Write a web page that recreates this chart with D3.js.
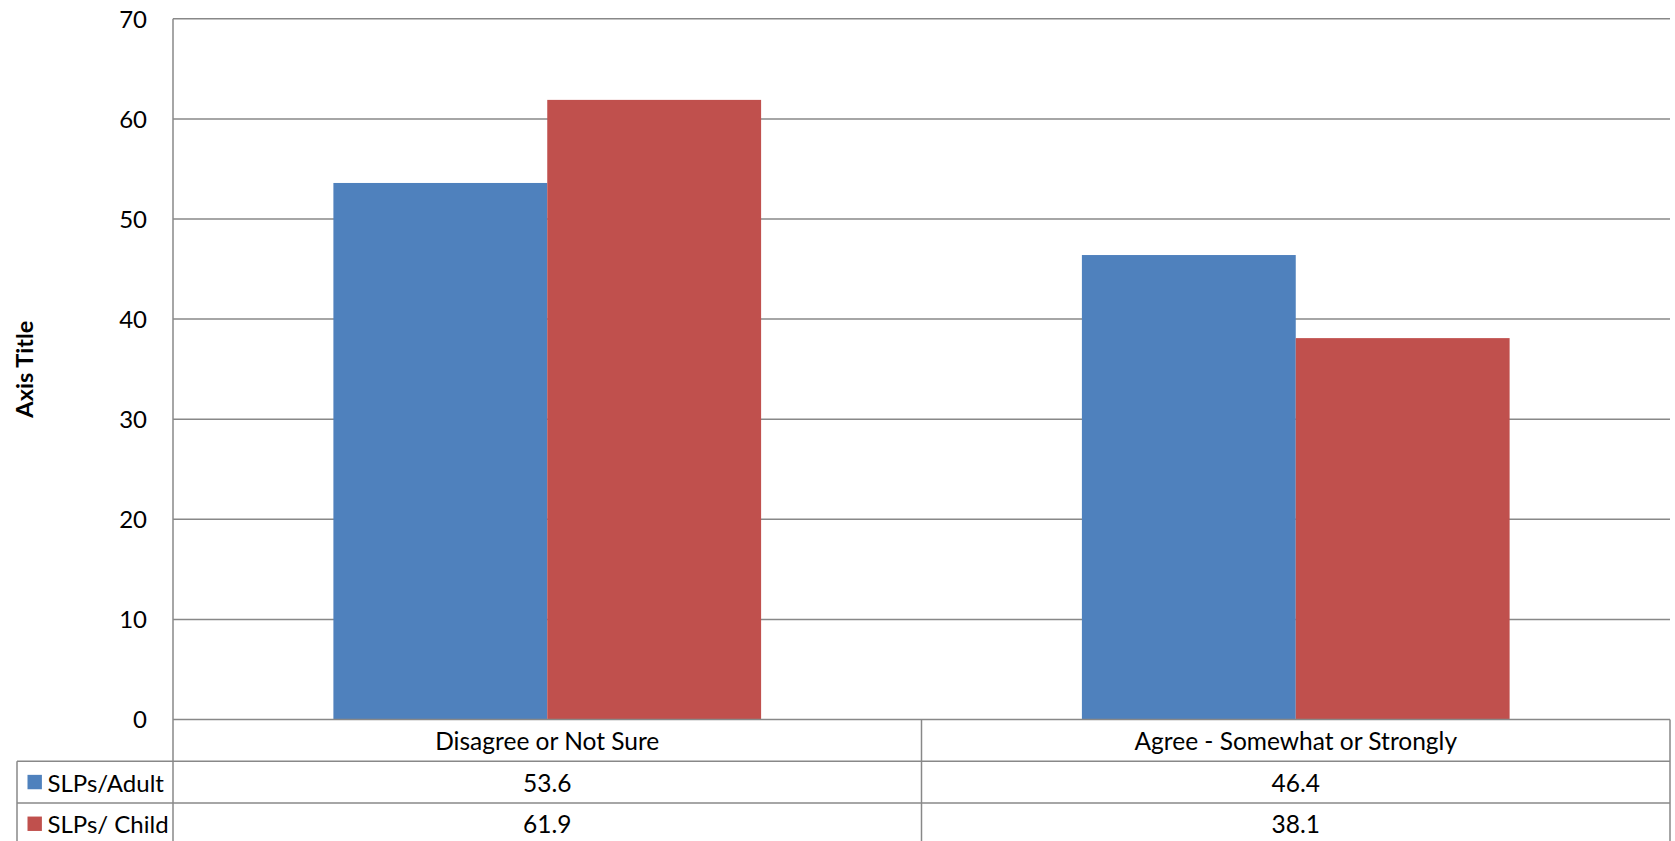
<!DOCTYPE html>
<html>
<head>
<meta charset="utf-8">
<script src="https://cdn.jsdelivr.net/npm/d3@7"></script>
<style>
  html, body { margin: 0; padding: 0; background: #ffffff; }
  svg { display: block; }
  text { font-family: Lato, "Open Sans", sans-serif; fill: #000; }
</style>
</head>
<body>
<svg id="chart" width="1675" height="841"></svg>
<script>
const categories = ["Disagree or Not Sure", "Agree - Somewhat or Strongly"];
const seriesNames = ["SLPs/Adult", "SLPs/ Child"];
const adultValues = [53.6, 46.4];
const childValues = [61.9, 38.1];
const yTicks = [0, 10, 20, 30, 40, 50, 60, 70];
const axisTitle = "Axis Title";
const colors = ["#4F81BD", "#C0504D"];

const series = [
  { name: seriesNames[0], values: adultValues, color: colors[0] },
  { name: seriesNames[1], values: childValues, color: colors[1] }
];

const svg = d3.select("#chart");
const plotLeft = 173, plotRight = 1670, plotTop = 18.8, plotBottom = 719.5;
const rowH = 41.7;
const tableLeft = 17;
const gridColor = "#888888";
const fontSize = 23.5;
const tableFont = 24.5;

const y = d3.scaleLinear().domain([0, 70]).range([plotBottom, plotTop]);
const x = d3.scaleBand().domain(categories).range([plotLeft, plotRight]).padding(0);
const xInner = d3.scaleBand().domain(seriesNames).range([0, x.bandwidth()])
  .paddingInner(0).paddingOuter(0.75);

// gridlines
svg.append("g").selectAll("line").data(yTicks.filter(t => t > 0)).join("line")
  .attr("x1", plotLeft).attr("x2", plotRight)
  .attr("y1", d => y(d)).attr("y2", d => y(d))
  .attr("stroke", gridColor).attr("stroke-width", 1.5);

// y axis
const yAxis = d3.axisLeft(y).tickValues(yTicks).tickSize(0).tickPadding(26).tickFormat(d3.format("d"));
const gy = svg.append("g").attr("transform", `translate(${plotLeft},0)`).call(yAxis);
gy.select(".domain").remove();
gy.selectAll("text").attr("font-size", 24).attr("font-family", "Lato").attr("fill", "#000")
  .attr("dy", "0.35em");

// bars
const groups = svg.append("g").selectAll("g").data(categories).join("g")
  .attr("transform", d => `translate(${x(d)},0)`);
groups.selectAll("rect").data((c, i) => series.map(s => ({ name: s.name, value: s.values[i], color: s.color })))
  .join("rect")
  .attr("x", d => xInner(d.name))
  .attr("width", xInner.bandwidth())
  .attr("y", d => y(d.value))
  .attr("height", d => y(0) - y(d.value))
  .attr("fill", d => d.color);

// axis title
svg.append("text")
  .attr("transform", `translate(24,${(plotTop + plotBottom) / 2}) rotate(-90)`)
  .attr("text-anchor", "middle").attr("dominant-baseline", "central")
  .attr("font-size", fontSize).attr("font-weight", "bold")
  .text(axisTitle);

// data table
const tbl = svg.append("g");
const lineAttrs = sel => sel.attr("stroke", gridColor).attr("stroke-width", 1.5).attr("fill", "none");
const row1Top = plotBottom, row2Top = plotBottom + rowH, row3Top = plotBottom + 2 * rowH, row3Bottom = plotBottom + 3 * rowH;

tbl.append("line").attr("x1", plotLeft).attr("x2", plotRight).attr("y1", row1Top).attr("y2", row1Top).call(lineAttrs);
[row2Top, row3Top, row3Bottom].forEach(yy => {
  tbl.append("line").attr("x1", tableLeft).attr("x2", plotRight).attr("y1", yy).attr("y2", yy).call(lineAttrs);
});
tbl.append("line").attr("x1", plotLeft).attr("x2", plotLeft).attr("y1", plotTop).attr("y2", row3Bottom).call(lineAttrs);
tbl.append("line").attr("x1", plotRight).attr("x2", plotRight).attr("y1", row1Top).attr("y2", row3Bottom).call(lineAttrs);
tbl.append("line").attr("x1", tableLeft).attr("x2", tableLeft).attr("y1", row2Top).attr("y2", row3Bottom).call(lineAttrs);
categories.slice(1).forEach(c => {
  tbl.append("line").attr("x1", x(c)).attr("x2", x(c)).attr("y1", row1Top).attr("y2", row3Bottom).call(lineAttrs);
});

// category labels
tbl.selectAll("text.cat").data(categories).join("text").attr("class", "cat")
  .attr("x", d => x(d) + x.bandwidth() / 2).attr("y", row1Top + rowH / 2)
  .attr("text-anchor", "middle").attr("dominant-baseline", "central")
  .attr("font-size", tableFont).text(d => d);

// series rows
series.forEach((s, si) => {
  const top = plotBottom + (si + 1) * rowH;
  const cy = top + rowH / 2;
  tbl.append("rect").attr("x", 27.5).attr("y", cy - 7.2).attr("width", 14.4).attr("height", 14.4).attr("fill", s.color);
  tbl.append("text").attr("x", 47.5).attr("y", cy).attr("dominant-baseline", "central")
    .attr("font-size", fontSize + 0.5).text(s.name);
  tbl.selectAll(null).data(categories).join("text")
    .attr("x", d => x(d) + x.bandwidth() / 2).attr("y", cy)
    .attr("text-anchor", "middle").attr("dominant-baseline", "central")
    .attr("font-size", tableFont).text((d, i) => s.values[i].toFixed(1));
});
</script>
</body>
</html>
